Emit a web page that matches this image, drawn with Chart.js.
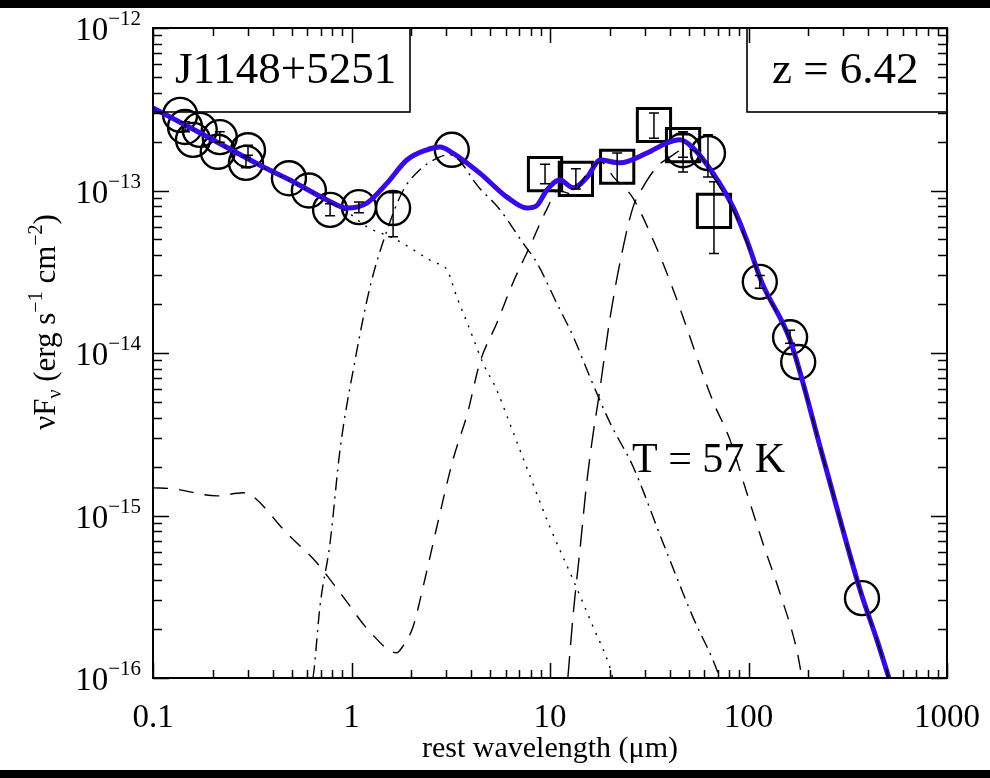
<!DOCTYPE html>
<html><head><meta charset="utf-8">
<script src="https://cdn.jsdelivr.net/npm/chart.js@4"></script>
<style>html,body{margin:0;padding:0;background:#fff;} #wrap{position:relative;width:990px;height:778px;}</style>
</head><body><div id="wrap"><canvas id="c" width="990" height="778"></canvas></div>
<script>
// ---- tick labels ----
const xTickValues = [0.1, 1, 10, 100, 1000];
const xTickLabels = ['0.1', '1', '10', '100', '1000'];
const yTickExponents = [-16, -15, -14, -13, -12];

// ---- total model (blue) ----
const totalLam = [0.1, 0.173, 0.358, 0.49, 0.753, 0.949, 1.2, 1.51, 1.9, 2.4, 2.79, 3.24, 4.43, 6.07, 7.65, 8.6, 9.66, 11.2, 13.1, 15.4, 17.9, 22.5, 30.8, 38.8, 45.2, 52.5, 66.2, 83.6, 98, 117, 162, 237, 365, 444, 510];
const totalFlux = [3.22e-13, 2.26e-13, 1.40e-13, 1.16e-13, 8.75e-14, 7.8e-14, 8.4e-14, 1.11e-13, 1.54e-13, 1.78e-13, 1.85e-13, 1.70e-13, 1.28e-13, 9.1e-14, 7.8e-14, 8.1e-14, 1.01e-13, 1.16e-13, 1.04e-13, 1.21e-13, 1.54e-13, 1.48e-13, 1.70e-13, 1.96e-13, 2.05e-13, 1.83e-13, 1.28e-13, 7.9e-14, 4.95e-14, 2.7e-14, 1.2e-14, 2.29e-15, 3.48e-16, 1.71e-16, 1e-16];

// ---- accretion disk (dotted) ----
const diskLam = [0.1, 0.173, 0.358, 0.49, 0.753, 0.95, 1.2, 1.62, 2.57, 3.03, 3.4, 3.95, 4.59, 5.4, 6.26, 7.6, 9.99, 13.1, 16.5, 20.0, 20.7];
const diskFlux = [3.2e-13, 2.25e-13, 1.39e-13, 1.15e-13, 8.6e-14, 7.4e-14, 5.96e-14, 5.1e-14, 3.64e-14, 3.24e-14, 2.2e-14, 1.39e-14, 8.7e-15, 5.9e-15, 3.7e-15, 2.0e-15, 8.5e-16, 4.0e-16, 2.06e-16, 1.17e-16, 1e-16];

// ---- hot dust (dash-dot) ----
const hotLam = [0.64, 0.65, 0.693, 0.78, 0.875, 1.04, 1.24, 1.51, 1.82, 2.21, 2.79, 3.13, 4.43, 5.6, 7.31, 8.6, 10.8, 13.1, 15.9, 20.1, 26.2, 37.1, 52.5, 66.2, 71.8];
const hotFlux = [1e-16, 1.17e-16, 2.73e-16, 6.8e-16, 2.53e-15, 8.9e-15, 2.55e-14, 5.7e-14, 1.0e-13, 1.34e-13, 1.61e-13, 1.66e-13, 1.03e-13, 7.6e-14, 4.75e-14, 3.58e-14, 2.03e-14, 1.26e-14, 7.1e-15, 3.7e-15, 2.0e-15, 6.8e-16, 2.37e-16, 1.29e-16, 1e-16];

// ---- torus (dashed) ----
const torusLam = [0.1, 0.126, 0.21, 0.284, 0.308, 0.472, 0.67, 0.90, 1.24, 1.69, 1.79, 2.04, 2.29, 2.72, 3.24, 3.84, 4.43, 5.4, 6.5, 7.9, 9.6, 11.0, 13.0, 15.5, 18.0, 21.0, 26.0, 33.0, 41.0, 66.0, 80.7, 98.0, 118, 144, 175, 186];
const torusFlux = [1.48e-15, 1.46e-15, 1.32e-15, 1.38e-15, 1.35e-15, 7.8e-16, 5.1e-16, 3.2e-16, 1.92e-16, 1.43e-16, 1.53e-16, 2.06e-16, 3.6e-16, 9.0e-16, 2.19e-15, 4.26e-15, 8.7e-15, 1.53e-14, 2.7e-14, 4.5e-14, 7.6e-14, 1.0e-13, 9.5e-14, 1.3e-13, 1.5e-13, 1.2e-13, 9.1e-14, 5.0e-14, 2.6e-14, 5.1e-15, 2.92e-15, 1.38e-15, 6.8e-16, 3.33e-16, 1.49e-16, 1e-16];

// ---- cold dust T = 57 K (long dashed) ----
const coldLam = [12.3, 13.1, 14.2, 15.3, 16.5, 17.5, 20.1, 22.5, 26.2, 29.4, 34.6, 40.3, 47.9, 55, 66.2, 83.6, 98, 117, 162, 237, 365, 444, 510];
const coldFlux = [1e-16, 2.5e-16, 6.4e-16, 1.58e-15, 3.2e-15, 5.1e-15, 1.66e-14, 3.58e-14, 7.9e-14, 1.05e-13, 1.40e-13, 1.61e-13, 1.8e-13, 1.72e-13, 1.22e-13, 7.6e-14, 4.8e-14, 2.65e-14, 1.19e-14, 2.28e-15, 3.47e-16, 1.7e-16, 1e-16];

// ---- photometry: circles ----
const circleLam = [0.137, 0.145, 0.159, 0.172, 0.217, 0.212, 0.301, 0.294, 0.484, 0.61, 0.78, 1.09, 1.62, 3.2, 46.8, 62.5, 114, 162, 178, 373];
const circleFlux = [2.92e-13, 2.46e-13, 2.05e-13, 2.36e-13, 2.13e-13, 1.73e-13, 1.77e-13, 1.48e-13, 1.19e-13, 1.0e-13, 7.6e-14, 7.9e-14, 7.8e-14, 1.78e-13, 1.77e-13, 1.70e-13, 2.74e-14, 1.25e-14, 8.8e-15, 3.1e-16];
const circleErrLow = [null, 2.3e-13, null, null, 1.98e-13, null, 1.65e-13, 1.38e-13, null, null, 7.0e-14, 7.3e-14, 5.2e-14, null, 1.3e-13, 1.21e-13, 2.5e-14, 1.15e-14, null, null];
const circleErrHigh = [null, 2.65e-13, null, null, 2.3e-13, null, 1.9e-13, 1.6e-13, null, null, 8.3e-14, 8.5e-14, 9.7e-14, null, 2.3e-13, 2.2e-13, 3.0e-14, 1.38e-14, null, null];

// ---- photometry: squares ----
const squareLam = [9.44, 13.5, 21.8, 33.4, 46.8, 67];
const squareFlux = [1.26e-13, 1.18e-13, 1.40e-13, 2.53e-13, 1.90e-13, 7.5e-14];
const squareErrLow = [1.1e-13, 1.02e-13, 1.11e-13, 2.1e-13, 1.6e-13, 4.1e-14];
const squareErrHigh = [1.45e-13, 1.36e-13, 1.7e-13, 3.0e-13, 2.2e-13, 1.13e-13];

const pts = (xs, ys) => xs.map((v, i) => ({x: v, y: ys[i]}));
const serif = "'Liberation Serif','Times New Roman','DejaVu Serif',serif";

function drawParts(ctx, parts, x, y, align) {
  let total = 0;
  parts.forEach(p => { ctx.font = p.size + 'px ' + serif; p.w = ctx.measureText(p.t).width; total += p.w; });
  let cx = align === 'center' ? x - total / 2 : (align === 'right' ? x - total : x);
  ctx.textAlign = 'left';
  ctx.textBaseline = 'alphabetic';
  parts.forEach(p => { ctx.font = p.size + 'px ' + serif; ctx.fillText(p.t, cx, y + (p.dy || 0)); cx += p.w; });
}

const decor = {
  id: 'decor',
  beforeDraw(chart) {
    const ctx = chart.ctx;
    ctx.save();
    ctx.fillStyle = '#fff';
    ctx.fillRect(0, 0, chart.width, chart.height);
    ctx.fillStyle = '#000';
    ctx.fillRect(0, 0, chart.width, 8);
    ctx.fillRect(0, 770, chart.width, chart.height - 770);
    ctx.restore();
  },
  afterDatasetsDraw(chart) {
    const ctx = chart.ctx, xs = chart.scales.x, ys = chart.scales.y;
    ctx.save();
    ctx.strokeStyle = '#000';
    ctx.lineWidth = 1.5;
    const bars = (lam, lo, hi) => lam.forEach((l, i) => {
      if (lo[i] == null) return;
      const px = xs.getPixelForValue(l), y1 = ys.getPixelForValue(lo[i]), y2 = ys.getPixelForValue(hi[i]);
      ctx.beginPath();
      ctx.moveTo(px, y1); ctx.lineTo(px, y2);
      ctx.moveTo(px - 5, y1); ctx.lineTo(px + 5, y1);
      ctx.moveTo(px - 5, y2); ctx.lineTo(px + 5, y2);
      ctx.stroke();
    });
    bars(circleLam, circleErrLow, circleErrHigh);
    bars(squareLam, squareErrLow, squareErrHigh);
    ctx.restore();
  },
  afterDraw(chart) {
    const ctx = chart.ctx, xs = chart.scales.x, ys = chart.scales.y;
    const {left, right, top, bottom} = chart.chartArea;
    ctx.save();
    ctx.strokeStyle = '#000';
    ctx.fillStyle = '#000';
    // label boxes
    ctx.lineWidth = 1.6;
    ctx.strokeRect(left, top, 410 - left, 112 - top);
    ctx.strokeRect(747, top, right - 747, 112 - top);
    // frame
    ctx.lineWidth = 2;
    ctx.strokeRect(left, top, right - left, bottom - top);
    // ticks
    ctx.lineWidth = 1.5;
    ctx.beginPath();
    for (let n = -1; n <= 3; n++) {
      for (let k = 1; k <= 9; k++) {
        if (n === 3 && k > 1) break;
        const v = k * Math.pow(10, n);
        const px = Math.round(xs.getPixelForValue(v)) + 0.5;
        const len = k === 1 ? 15 : 8;
        ctx.moveTo(px, bottom); ctx.lineTo(px, bottom - len);
        ctx.moveTo(px, top); ctx.lineTo(px, top + len);
      }
    }
    for (let n = -16; n <= -12; n++) {
      for (let k = 1; k <= 9; k++) {
        if (n === -12 && k > 1) break;
        const v = k * Math.pow(10, n);
        const py = Math.round(ys.getPixelForValue(v)) + 0.5;
        const len = k === 1 ? 16 : 9;
        ctx.moveTo(left, py); ctx.lineTo(left + len, py);
        ctx.moveTo(right, py); ctx.lineTo(right - len, py);
      }
    }
    ctx.stroke();
    // x tick labels
    xTickValues.forEach((v, i) => {
      drawParts(ctx, [{t: xTickLabels[i], size: 33}], xs.getPixelForValue(v), 727, 'center');
    });
    // y tick labels
    yTickExponents.forEach(e => {
      const py = ys.getPixelForValue(Math.pow(10, e));
      drawParts(ctx, [{t: '10', size: 33}, {t: '\u2212' + Math.abs(e), size: 21, dy: -15}], 141, py + 12, 'right');
    });
    // axis titles
    drawParts(ctx, [{t: 'rest wavelength (\u03bcm)', size: 30}], 550, 757, 'center');
    ctx.save();
    ctx.translate(55, 322);
    ctx.rotate(-Math.PI / 2);
    drawParts(ctx, [
      {t: '\u03bdF', size: 31}, {t: '\u03bd', size: 20, dy: 6},
      {t: ' (erg s', size: 31}, {t: '\u22121', size: 20, dy: -13},
      {t: ' cm', size: 31}, {t: '\u22122', size: 20, dy: -13}, {t: ')', size: 31}
    ], 0, 0, 'center');
    ctx.restore();
    // in-plot labels
    drawParts(ctx, [{t: 'J1148+5251', size: 45}], 175, 83, 'left');
    drawParts(ctx, [{t: 'z = 6.42', size: 45}], 772, 83, 'left');
    drawParts(ctx, [{t: 'T = 57 K', size: 42}], 632, 472, 'left');
    ctx.restore();
  }
};

const lineDs = (label, xs, ys, dash, order) => ({
  label, data: pts(xs, ys), showLine: true, pointRadius: 0, borderColor: '#000', borderWidth: 1.4,
  borderDash: dash, cubicInterpolationMode: 'monotone', fill: false, order
});

new Chart(document.getElementById('c'), {
  type: 'scatter',
  data: {
    datasets: [
      lineDs('accretion disk', diskLam, diskFlux, [2, 7], 1),
      lineDs('hot dust', hotLam, hotFlux, [13, 6, 2, 6], 1),
      lineDs('torus', torusLam, torusFlux, [15, 11], 1),
      lineDs('cold dust', coldLam, coldFlux, [22, 11], 1),
      {label: 'total', data: pts(totalLam, totalFlux), showLine: true, pointRadius: 0, borderColor: '#3a0ae6',
       borderWidth: 5, cubicInterpolationMode: 'monotone', fill: false, order: 2},
      {label: 'squares', data: pts(squareLam, squareFlux), pointStyle: 'rect', pointRadius: 23.5,
       pointBorderColor: '#000', pointBackgroundColor: 'rgba(0,0,0,0)', pointBorderWidth: 3, showLine: false, order: 3},
      {label: 'circles', data: pts(circleLam, circleFlux), pointStyle: 'circle', pointRadius: 17,
       pointBorderColor: '#000', pointBackgroundColor: 'rgba(0,0,0,0)', pointBorderWidth: 2.4, showLine: false, order: 3}
    ]
  },
  options: {
    responsive: false,
    devicePixelRatio: 1,
    animation: false,
    events: [],
    layout: {padding: {left: 153, top: 28, right: 43, bottom: 100}},
    plugins: {legend: {display: false}, tooltip: {enabled: false}},
    scales: {
      x: {type: 'logarithmic', min: 0.1, max: 1000, display: false},
      y: {type: 'logarithmic', min: 1e-16, max: 1e-12, display: false}
    }
  },
  plugins: [decor]
});
</script></body></html>
